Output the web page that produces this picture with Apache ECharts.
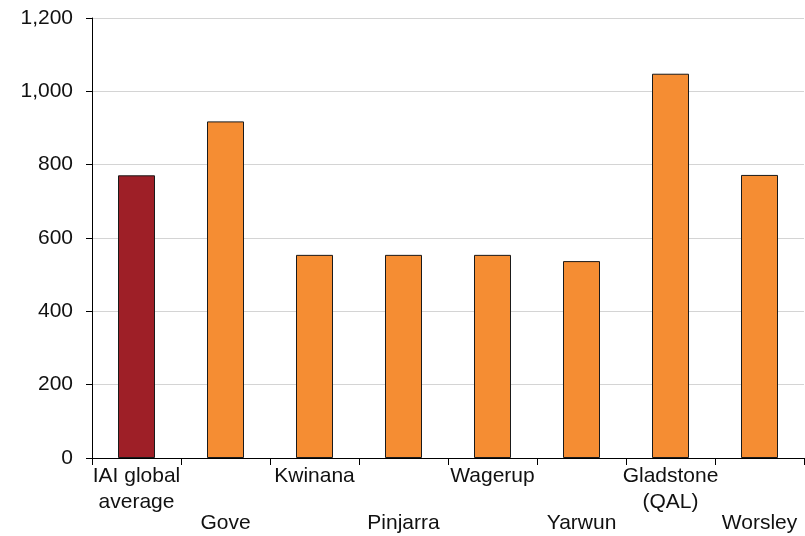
<!DOCTYPE html>
<html><head><meta charset="utf-8">
<script src="https://cdn.jsdelivr.net/npm/echarts@6/dist/echarts.min.js"></script>
<style>html,body{margin:0;padding:0;background:#fff}#c{width:805px;height:536px}</style>
</head><body><div id="c"></div>
<script>
const categories = ['IAI global\naverage', 'Gove', 'Kwinana', 'Pinjarra', 'Wagerup', 'Yarwun', 'Gladstone\n(QAL)', 'Worsley'];
const values = [771, 918, 554, 554, 554, 537, 1048, 772];
const barColors = ['#9E1F27', '#F58D33', '#F58D33', '#F58D33', '#F58D33', '#F58D33', '#F58D33', '#F58D33'];
const yTicks = [0, 200, 400, 600, 800, 1000, 1200];

const FONT = 'Liberation Sans, Arial, sans-serif';
const chart = echarts.init(document.getElementById('c'), null, {renderer: 'canvas'});
chart.setOption({
  animation: false,
  grid: {left: 92, right: 1, top: 18, bottom: 78},
  xAxis: {
    type: 'category',
    data: categories,
    axisLine: {lineStyle: {color: '#000', width: 1}},
    axisTick: {show: true, alignWithLabel: false, length: 7, lineStyle: {color: '#000'}},
    axisLabel: {
      interval: 0,
      color: '#111',
      fontFamily: FONT,
      fontSize: 21,
      lineHeight: 26,
      margin: 5,
      formatter: function (v, i) { return i % 2 === 1 ? '{gap| }\n' + v : v; },
      rich: {
        gap: {fontFamily: FONT, fontSize: 21, lineHeight: 47, color: '#111'}
      }
    }
  },
  yAxis: {
    type: 'value',
    min: yTicks[0],
    max: yTicks[yTicks.length - 1],
    interval: 200,
    axisLine: {show: true, lineStyle: {color: '#000', width: 1}},
    axisTick: {show: true, length: 6, lineStyle: {color: '#000'}},
    splitLine: {show: true, lineStyle: {color: '#d4d4d4', width: 1}},
    axisLabel: {
      color: '#111',
      fontFamily: FONT,
      fontSize: 21,
      margin: 19,
      formatter: function (v) { return v.toLocaleString('en-US'); }
    }
  },
  series: [{
    type: 'bar',
    barWidth: 37,
    data: values.map((v, i) => ({value: v, itemStyle: {color: barColors[i]}})),
    itemStyle: {borderColor: '#1a1a1a', borderWidth: 1}
  }]
});
</script></body></html>
